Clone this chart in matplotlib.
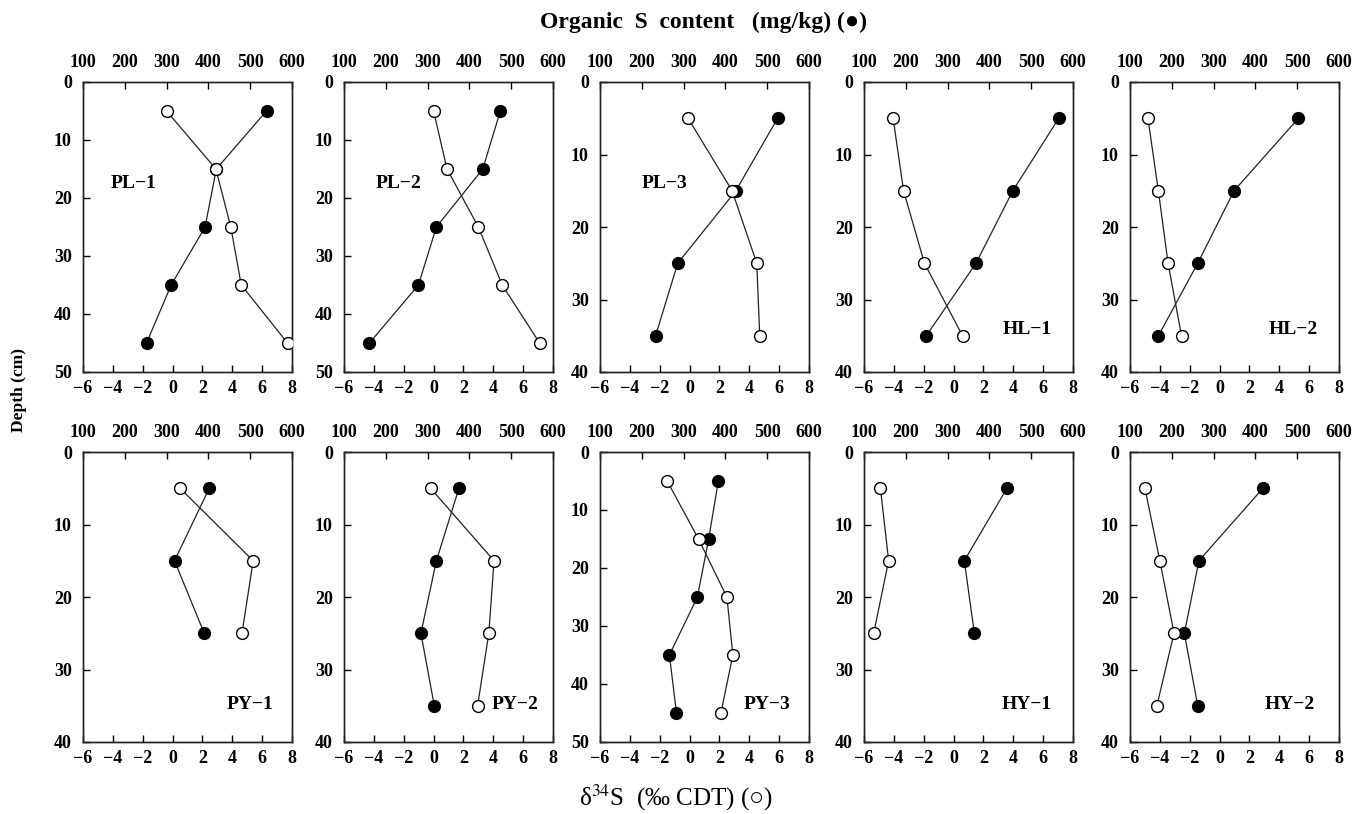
import matplotlib
matplotlib.use("Agg")
import matplotlib.pyplot as plt

plt.rcParams['font.family'] = ['Liberation Serif', 'DejaVu Serif', 'DejaVu Sans']
plt.rcParams['mathtext.fontset'] = 'stix'

# panel names, in reading order (top row then bottom row)
panel_names = ['PL-1', 'PL-2', 'PL-3', 'HL-1', 'HL-2',
               'PY-1', 'PY-2', 'PY-3', 'HY-1', 'HY-2']

# sampling depth (cm)
pl1_depth = [5, 15, 25, 35, 45]
pl2_depth = [5, 15, 25, 35, 45]
pl3_depth = [5, 15, 25, 35]
hl1_depth = [5, 15, 25, 35]
hl2_depth = [5, 15, 25, 35]
py1_depth = [5, 15, 25]
py2_depth = [5, 15, 25, 35]
py3_depth = [5, 15, 25, 35, 45]
hy1_depth = [5, 15, 25]
hy2_depth = [5, 15, 25, 35]

# delta34S (permil CDT), open circles
pl1_d34s = [-0.4, 2.9, 3.9, 4.6, 7.7]
pl2_d34s = [0.0, 0.9, 3.0, 4.6, 7.1]
pl3_d34s = [-0.1, 2.85, 4.5, 4.7]
hl1_d34s = [-4.05, -3.35, -1.95, 0.6]
hl2_d34s = [-4.8, -4.1, -3.45, -2.55]
py1_d34s = [0.5, 5.4, 4.65]
py2_d34s = [-0.2, 4.05, 3.7, 2.95]
py3_d34s = [-1.5, 0.6, 2.5, 2.9, 2.1]
hy1_d34s = [-4.9, -4.35, -5.35]
hy2_d34s = [-5.0, -4.0, -3.05, -4.2]

# organic S content (mg/kg), filled circles
pl1_orgs = [539, 419, 392, 311, 252]
pl2_orgs = [474, 432, 321, 278, 161]
pl3_orgs = [525, 425, 286, 233]
hl1_orgs = [566, 456, 368, 249]
hl2_orgs = [503, 349, 262, 168]
py1_orgs = [402, 319, 390]
py2_orgs = [375, 321, 284, 316]
py3_orgs = [383, 360, 333, 266, 283]
hy1_orgs = [442, 340, 364]
hy2_orgs = [418, 265, 230, 262]

depths = [pl1_depth, pl2_depth, pl3_depth, hl1_depth, hl2_depth,
          py1_depth, py2_depth, py3_depth, hy1_depth, hy2_depth]
d34s = [pl1_d34s, pl2_d34s, pl3_d34s, hl1_d34s, hl2_d34s,
        py1_d34s, py2_d34s, py3_d34s, hy1_d34s, hy2_d34s]
orgs = [pl1_orgs, pl2_orgs, pl3_orgs, hl1_orgs, hl2_orgs,
        py1_orgs, py2_orgs, py3_orgs, hy1_orgs, hy2_orgs]
depth_max = [50, 50, 40, 40, 40, 40, 40, 50, 40, 40]

# where the panel name sits (axes fraction)
label_pos = [(0.24, 0.65), (0.26, 0.65), (0.31, 0.65), (0.78, 0.145), (0.78, 0.145),
             (0.80, 0.128), (0.82, 0.128), (0.80, 0.13), (0.78, 0.13), (0.765, 0.13)]

W, H = 1364, 814
fig = plt.figure(figsize=(W / 100, H / 100), dpi=100)

lefts = [83, 344, 600, 864, 1130]
tops = [82, 452]
pw, ph = 209, 290

tick_font = dict(fontsize=13, fontweight='bold')

for i, name in enumerate(panel_names):
	row, col = divmod(i, 5)
	rect = [lefts[col] / W, 1 - (tops[row] + ph) / H, pw / W, ph / H]
	ax = fig.add_axes(rect)
	ax2 = ax.twiny()

	# open circles = d34S (bottom axis), filled = organic S (top axis)
	ax.plot(d34s[i], depths[i], '-', color='#222222', lw=0.9,
	        marker='o', ms=8.5, mfc='white', mec='black', mew=1.0, zorder=4)
	ax2.plot(orgs[i], depths[i], '-', color='#222222', lw=0.9,
	         marker='o', ms=8.5, mfc='black', mec='black', mew=1.0, zorder=3)
	ax.set_zorder(ax2.get_zorder() + 1)
	ax.patch.set_visible(False)

	ax.set_xlim(-6, 8)
	ax2.set_xlim(100, 600)
	ax.set_ylim(depth_max[i], 0)

	ax.set_xticks(range(-6, 9, 2))
	ax2.set_xticks(range(100, 601, 100))
	ax.set_yticks(range(0, depth_max[i] + 1, 10))
	ax.set_xticklabels([str(v).replace('-', '\u2212') for v in range(-6, 9, 2)], **tick_font)
	ax2.set_xticklabels([str(v) for v in range(100, 601, 100)], **tick_font)
	ax.set_yticklabels([str(v) for v in range(0, depth_max[i] + 1, 10)], **tick_font)

	ax.tick_params(axis='x', direction='in', length=5, width=1, pad=6)
	ax.tick_params(axis='y', direction='in', length=5, width=1, pad=8)
	ax2.tick_params(axis='x', direction='in', length=5, width=1, pad=8)
	for a in (ax, ax2):
		for s in a.spines.values():
			s.set_linewidth(1.0)
			s.set_color('#222222')

	ax.text(label_pos[i][0], label_pos[i][1], name.replace('-', '\u2212'),
	        transform=ax.transAxes, ha='center', va='center',
	        fontsize=14, fontweight='bold')

fig.text(703 / W, 1 - 22 / H, 'Organic  S  content   (mg/kg) (\u25cf)',
         ha='center', va='center', fontsize=17, fontweight='bold')
fig.text(676 / W, 1 - 798 / H, '\u03b4$^{34}$S  (\u2030 CDT) (\u25cb)',
         ha='center', va='center', fontsize=18)
fig.text(19 / W, 1 - 390 / H, 'Depth (cm)', rotation=90,
         ha='center', va='center', fontsize=12.5, fontweight='bold')

fig.savefig('out.png', dpi=100)
